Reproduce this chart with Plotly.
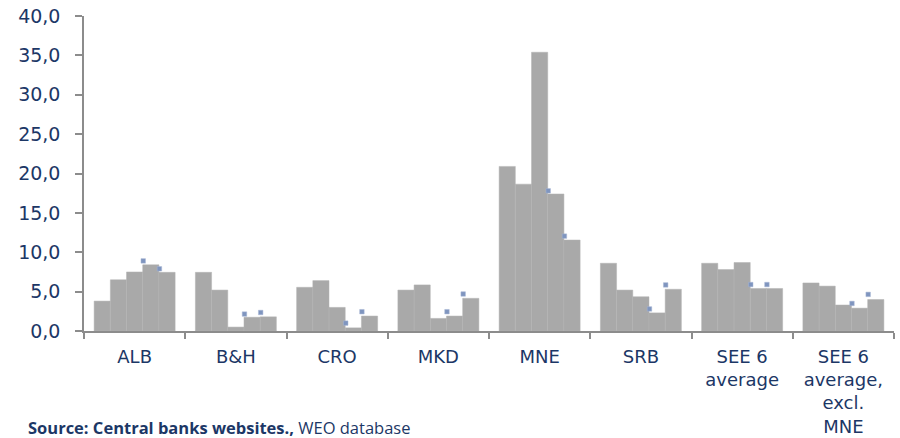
import plotly.graph_objects as go

# Category labels (x axis)
categories = ["ALB", "B&H", "CRO", "MKD", "MNE", "SRB",
              "SEE 6<br>average", "SEE 6<br>average,<br>excl.<br>MNE"]

# Bar series, one list per period (values per category)
period_1 = [3.8, 7.45, 5.55, 5.2, 20.9, 8.6, 8.6, 6.1]
period_2 = [6.5, 5.2, 6.4, 5.85, 18.65, 5.2, 7.8, 5.7]
period_3 = [7.5, 0.5, 3.0, 1.6, 35.4, 4.35, 8.7, 3.3]
period_4 = [8.4, 1.75, 0.4, 1.9, 17.4, 2.3, 5.4, 2.9]
period_5 = [7.45, 1.8, 1.9, 4.15, 11.55, 5.3, 5.4, 4.0]

# Point markers shown next to the last two periods
marker_4 = [8.9, 2.15, 1.0, 2.45, 17.8, 2.8, 5.9, 3.5]
marker_5 = [7.9, 2.35, 2.45, 4.7, 12.05, 5.85, 5.9, 4.65]

y_ticks = [0, 5, 10, 15, 20, 25, 30, 35, 40]

NAVY = "#1c3766"
BAR = "#a9a9a9"
AXIS = "#8c8c8c"
FONT = "DejaVu Sans, Verdana, sans-serif"

n = len(categories)
xs = list(range(n))
series = [period_1, period_2, period_3, period_4, period_5]

BARGAP = 0.2
bar_w = (1 - BARGAP) / len(series)

fig = go.Figure()
for k, vals in enumerate(series):
    fig.add_trace(go.Bar(
        x=xs, y=vals, name=f"Period {k + 1}",
        marker=dict(color=BAR, line=dict(color="#b3b3b3", width=0.5)),
        showlegend=False, hoverinfo="y",
    ))


def left_edge(idx):
    # left edge of the idx-th bar inside a group
    return -(1 - BARGAP) / 2 + idx * bar_w + 0.005


for idx, vals in ((3, marker_4), (4, marker_5)):
    fig.add_trace(go.Scatter(
        x=[x + left_edge(idx) for x in xs], y=vals, mode="markers",
        marker=dict(symbol="square", size=4.5, color="#7f95bf",
                    line=dict(color="#a9b7d4", width=0.5)),
        showlegend=False, hoverinfo="y",
    ))

fig.add_annotation(
    xref="paper", yref="paper", x=-0.071, y=-0.306,
    xanchor="left", yanchor="middle", showarrow=False,
    text="<b>Source: Central banks websites.,</b> WEO database",
    font=dict(family="Open Sans", size=16.5, color=NAVY),
)

fig.update_layout(
    width=900, height=438,
    margin=dict(l=84, r=6, t=16, b=107),
    paper_bgcolor="white", plot_bgcolor="white",
    barmode="group", bargap=BARGAP, bargroupgap=0,
    separators=", ",
    font=dict(family=FONT, color=NAVY),
)

fig.update_xaxes(
    range=[-0.5, n - 0.5], automargin=False,
    tickmode="array", tickvals=xs, ticktext=categories,
    ticks="", ticklabelstandoff=8,
    tickfont=dict(family=FONT, size=18, color=NAVY),
    showline=True, linecolor=AXIS, linewidth=2,
    showgrid=False, zeroline=False,
    minor=dict(tickmode="array", tickvals=[i - 0.5 for i in range(n + 1)],
               ticks="outside", ticklen=6, tickcolor=AXIS, tickwidth=2,
               showgrid=False),
)

fig.update_yaxes(
    range=[0, 40], tickmode="array", tickvals=y_ticks, automargin=False,
    tickformat=".1f",
    ticks="outside", ticklen=7, tickcolor=AXIS, tickwidth=1.5,
    ticklabelstandoff=11,
    tickfont=dict(family=FONT, size=19, color=NAVY),
    showline=True, linecolor=AXIS, linewidth=1.5,
    showgrid=False, zeroline=False,
)

fig.write_html("out.html")
